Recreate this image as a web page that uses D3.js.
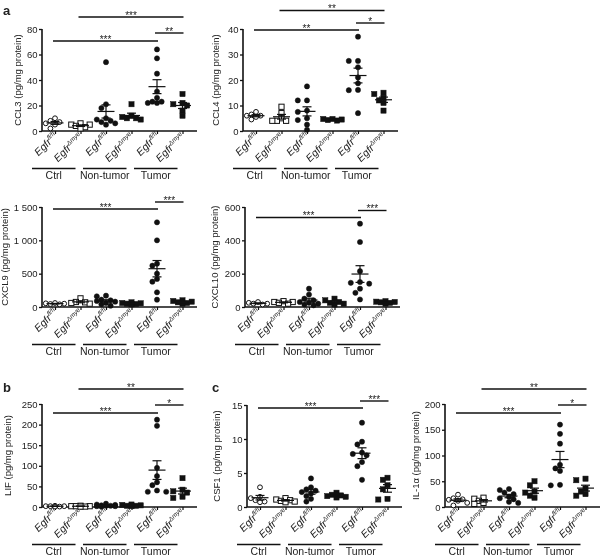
<!DOCTYPE html>
<html><head><meta charset="utf-8">
<script src="https://cdn.jsdelivr.net/npm/d3@7"></script>
<style>
body{margin:0;background:#fff}
svg{will-change:transform}
text{font-family:"Liberation Sans",Arial,Helvetica,sans-serif;fill:#222}
</style>
</head><body><svg id="c" width="600" height="558"></svg>
<script>
// ---------- data ----------
const groups = ["Ctrl", "Non-tumor", "Tumor"];
const genotypes = ["fl/fl", "Δmye"];
const categories = ["Ctrl fl/fl", "Ctrl Δmye", "Non-tumor fl/fl", "Non-tumor Δmye", "Tumor fl/fl", "Tumor Δmye"];

const ccl3 = [[10,8,7,6,5,2],[6,5,5,4,3,2],[54,21,18,10,9,8,7,6,5],[21,12,11,10,10,9],[64,57,45,31,26,23,23,22,22],[29,22,21,20,16,12]];
const ccl4 = [[7.5,6.5,6,6,5.5,4.5],[9.5,7,5,4,4,4],[17.5,12,12,8,7.5,5,4.3,2.5,0.5],[4.7,4.7,4.5,4.3,4.1],[37,27.5,27.5,25,21,18.7,16.1,16,7],[15,14.5,13,12,11,8]];
const cxcl9 = [[60,55,50,45,40],[130,75,70,60,50],[170,160,110,100,90,80,60,40,20],[70,60,55,50,45,40],[1270,1000,650,620,500,420,380,220,110],[100,90,80,70,60,50]];
const cxcl10 = [[30,25,20,20,15],[35,30,30,25,20],[110,75,50,40,30,25,20,15,10],[50,40,30,25,20,15],[500,390,215,150,145,140,110,85,45],[35,32,30,28,25,20]];
const lif = [[3,2,2,2,1,1],[3,2,2,2,1,1],[8,6,5,4,3,3,2,2,1],[6,5,4,3,3,2],[212,197,95,75,60,53,40,37,37],[70,42,38,35,25,22]];
const csf1 = [[2.9,1.5,1.3,1.0,0.8,0.7],[1.3,1.1,1.0,0.9,0.8,0.7],[4.2,2.9,2.6,2.4,2.2,2.0,1.6,1.2,0.8],[2.1,1.8,1.7,1.6,1.5,1.4],[12.4,9.6,9.2,8.0,7.8,7.6,6.6,6.0,4.0],[4.3,4.0,3.2,2.6,1.2,1.1]];
const il1a = [[24,17,15,14,12,8,3],[18,16,12,8,6],[35,33,28,25,20,17,15,10,8],[50,42,30,28,22,18],[160,142,123,82,75,70,43,42],[55,52,36,30,25,22]];

const ccl3Ticks = [0,20,40,60,80];
const ccl4Ticks = [0,10,20,30,40];
const cxcl9Ticks = [0,500,1000,1500];
const cxcl10Ticks = [0,200,400,600];
const lifTicks = [0,50,100,150,200,250];
const csf1Ticks = [0,5,10,15];
const il1aTicks = [0,50,100,150,200];

// comparisons: [from category, to category, stars]
const ccl3Sig = [[1,5,"***"],[0,4,"***"],[4,5,"**"]];
const ccl4Sig = [[1,5,"**"],[0,4,"**"],[4,5,"*"]];
const cxcl9Sig = [[0,4,"***"],[4,5,"***"]];
const cxcl10Sig = [[0,4,"***"],[4,5,"***"]];
const lifSig = [[1,5,"**"],[0,4,"***"],[4,5,"*"]];
const csf1Sig = [[0,4,"***"],[4,5,"***"]];
const il1aSig = [[1,5,"**"],[0,4,"***"],[4,5,"*"]];

// ---------- layout ----------
const fmt = d3.formatLocale({decimal:".",thousands:" ",grouping:[3],currency:["",""]}).format(",");
const panels = [
  {title:"CCL3 (pg/mg protein)", data:ccl3, ticks:ccl3Ticks, sig:ccl3Sig, ax:42, top:29, bottom:131, sigY:[17,41,33], lx:18},
  {title:"CCL4 (pg/mg protein)", data:ccl4, ticks:ccl4Ticks, sig:ccl4Sig, ax:243, top:29, bottom:131, sigY:[10.5,30,23], lx:216},
  {title:"CXCL9 (pg/mg protein)", data:cxcl9, ticks:cxcl9Ticks, sig:cxcl9Sig, ax:42, top:207, bottom:307, sigY:[209,202], lx:5},
  {title:"CXCL10 (pg/mg protein)", data:cxcl10, ticks:cxcl10Ticks, sig:cxcl10Sig, ax:245, top:207, bottom:307, sigY:[217.5,210.5], lx:215},
  {title:"LIF (pg/mg protein)", data:lif, ticks:lifTicks, sig:lifSig, ax:42, top:404, bottom:507, sigY:[389,413,405], lx:8},
  {title:"CSF1 (pg/mg protein)", data:csf1, ticks:csf1Ticks, sig:csf1Sig, ax:247, top:405, bottom:507, sigY:[408,401], lx:217},
  {title:"IL-1α (pg/mg protein)", data:il1a, ticks:il1aTicks, sig:il1aSig, ax:445, top:404, bottom:507, sigY:[389,413,405], lx:416}
];

const svg = d3.select("#c");
svg.append("text").attr("x",3).attr("y",15).attr("font-size",13).attr("font-weight","bold").attr("fill","#111").text("a");
svg.append("text").attr("x",3).attr("y",392).attr("font-size",13).attr("font-weight","bold").attr("fill","#111").text("b");
svg.append("text").attr("x",212).attr("y",392).attr("font-size",13).attr("font-weight","bold").attr("fill","#111").text("c");

function swarm(vals, y, cx, step, rr){
  const pts = vals.map(v=>({v, py:y(v)})).sort((a,b)=>a.py-b.py);
  const placed = [];
  const offs = [0,-1,1,-2,2];
  pts.forEach(p=>{
    let best = null, bestD = -1;
    for(const o of offs){
      const px = cx + o*step;
      const dmin = placed.length ? d3.min(placed, q=>Math.hypot(q.px-px, q.py-p.py)) : Infinity;
      if(dmin >= rr){ best = px; break; }
      if(dmin > bestD){ bestD = dmin; best = px; }
    }
    p.px = best;
    placed.push(p);
  });
  return pts;
}

panels.forEach(P=>{
  const g = svg.append("g");
  const x = d3.scalePoint().domain(categories).range([P.ax+13, P.ax+140.5]);
  const y = d3.scaleLinear().domain([0, d3.max(P.ticks)]).range([P.bottom, P.top]);

  // y axis
  const yAxis = g.append("g").attr("transform",`translate(${P.ax},0)`)
    .call(d3.axisLeft(y).tickValues(P.ticks).tickFormat(fmt).tickSize(3).tickPadding(1.5));
  yAxis.select(".domain").attr("stroke","#111").attr("stroke-width",1.6).attr("d",`M0,${P.top}V${P.bottom}`);
  yAxis.selectAll(".tick line").attr("stroke","#111").attr("stroke-width",1.3);
  yAxis.selectAll(".tick text").attr("font-size",9.5).attr("fill","#333").style("font-family",'"Liberation Sans",Arial,sans-serif');

  // x axis
  const xAxis = g.append("g").attr("transform",`translate(0,${P.bottom})`)
    .call(d3.axisBottom(x).tickSize(3).tickFormat(""));
  xAxis.select(".domain").attr("stroke","#111").attr("stroke-width",1.6).attr("d",`M${P.ax},0H${P.ax+155}`);
  xAxis.selectAll(".tick line").attr("stroke","#111").attr("stroke-width",1.2);

  // category labels
  categories.forEach((c,i)=>{
    const t = g.append("text")
      .attr("transform",`translate(${x(c)+3},${P.bottom+6}) rotate(-45)`)
      .attr("text-anchor","end").attr("font-size",10.5).attr("font-style","italic").attr("fill","#222");
    t.append("tspan").text("Egfr");
    t.append("tspan").attr("font-size",6.5).attr("dy",-4).text(genotypes[i%2]);
  });

  // group lines and labels
  groups.forEach((gr,k)=>{
    const a = x(categories[2*k]) - 23, b = x(categories[2*k+1]) - 5;
    g.append("line").attr("x1",a).attr("x2",b).attr("y1",P.bottom+37.5).attr("y2",P.bottom+37.5)
      .attr("stroke","#111").attr("stroke-width",1.3);
    g.append("text").attr("x",(a+b)/2).attr("y",P.bottom+48).attr("text-anchor","middle")
      .attr("font-size",10.5).attr("fill","#222").text(gr);
  });

  // y title
  g.append("text").attr("transform",`translate(${P.lx},${(P.top+P.bottom)/2}) rotate(-90)`)
    .attr("text-anchor","middle").attr("dy","0.35em").attr("font-size",9.5).attr("fill","#333").text(P.title);

  // points
  P.data.forEach((vals,i)=>{
    const cx = x(categories[i]);
    const open = i < 2;
    const square = i % 2 === 1;
    const pts = swarm(vals, y, cx, 4.6, 5);
    if(square){
      g.selectAll(null).data(pts).enter().append("rect")
        .attr("x",d=>d.px-2.6).attr("y",d=>d.py-2.6).attr("width",5.2).attr("height",5.2)
        .attr("fill",open?"#fff":"#111").attr("stroke","#111").attr("stroke-width",open?1:0.5);
    } else {
      g.selectAll(null).data(pts).enter().append("circle")
        .attr("cx",d=>d.px).attr("cy",d=>d.py).attr("r",open?2.4:2.6)
        .attr("fill",open?"#fff":"#111").attr("stroke","#111").attr("stroke-width",open?1:0.5);
    }
    // mean ± SEM
    const m = d3.mean(vals), sem = d3.deviation(vals)/Math.sqrt(vals.length);
    const mg = g.append("g").attr("stroke","#111").attr("stroke-width",1.2);
    mg.append("line").attr("x1",cx-8.5).attr("x2",cx+8.5).attr("y1",y(m)).attr("y2",y(m));
    mg.append("line").attr("x1",cx).attr("x2",cx).attr("y1",y(m+sem)).attr("y2",y(Math.max(0,m-sem)));
    mg.append("line").attr("x1",cx-4.5).attr("x2",cx+4.5).attr("y1",y(m+sem)).attr("y2",y(m+sem));
    mg.append("line").attr("x1",cx-4.5).attr("x2",cx+4.5).attr("y1",y(Math.max(0,m-sem))).attr("y2",y(Math.max(0,m-sem)));
  });

  // significance bars
  P.sig.forEach((s,k)=>{
    const yy = P.sigY[k];
    const a = x(categories[s[0]]) - 2, b = x(categories[s[1]]) + 1;
    g.append("line").attr("x1",a).attr("x2",b).attr("y1",yy).attr("y2",yy).attr("stroke","#111").attr("stroke-width",1.4);
    g.append("text").attr("x",(a+b)/2).attr("y",yy+1.5).attr("text-anchor","middle").attr("font-size",10).attr("fill","#111").text(s[2]);
  });
});
</script>
</body></html>
